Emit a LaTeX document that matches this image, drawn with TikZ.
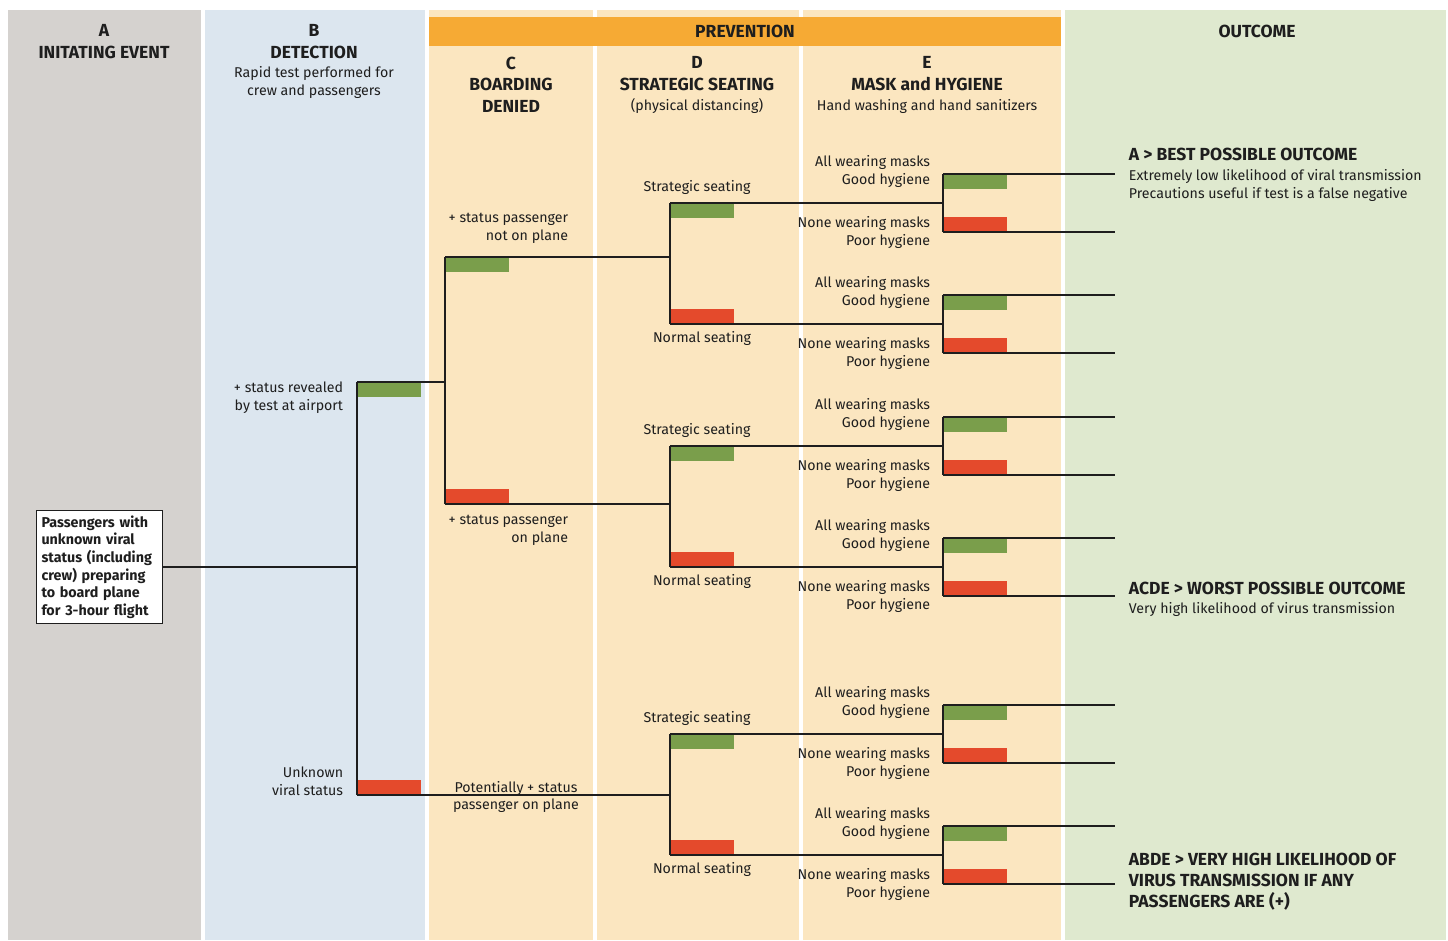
\documentclass[tikz,border=0pt]{standalone}
\usepackage{fontspec}
\setmainfont{Fira Sans}
\usetikzlibrary{positioning}
\definecolor{bgA}{HTML}{D5D2CF}
\definecolor{bgB}{HTML}{DCE6EF}
\definecolor{bgP}{HTML}{FBE6C0}
\definecolor{bgO}{HTML}{DFE9CF}
\definecolor{prev}{HTML}{F6AA34}
\definecolor{barG}{HTML}{7A9E4B}
\definecolor{barR}{HTML}{E44A2C}
\definecolor{ink}{HTML}{1E1E1E}

\begin{document}
\begin{tikzpicture}[x=1pt, y=-1pt, line width=1.8pt, ink,
  hd/.style={font=\fontsize{17.5}{21.5}\selectfont\bfseries, inner sep=0pt, align=center},
  sub/.style={font=\fontsize{14.2}{17.5}\selectfont, inner sep=0pt, align=center},
  lbl/.style={font=\fontsize{14.2}{18}\selectfont, inner sep=0pt, align=right},
  outhd/.style={font=\fontsize{17.5}{21}\selectfont\bfseries, inner sep=0pt, align=left, anchor=west},
  outtxt/.style={font=\fontsize{14.2}{18}\selectfont, inner sep=0pt, align=left, anchor=west},
  gbar/.style={fill=barG, minimum width=63pt, minimum height=14pt, inner sep=0pt},
  rbar/.style={fill=barR, minimum width=63pt, minimum height=14pt, inner sep=0pt},
  startbox/.style={draw, line width=0.9pt, fill=white, text width=116pt, inner sep=5pt,
    align=left, font=\fontsize{14.3}{17.6}\selectfont\bfseries}]
  \useasboundingbox (0,0) rectangle (1448,941);

  % columns
  \fill[bgA] (8,10) rectangle (201,940);
  \fill[bgB] (205,10) rectangle (425,940);
  \fill[bgP] (429,10) rectangle (593,940);
  \fill[bgP] (597,10) rectangle (799,940);
  \fill[bgP] (803,10) rectangle (1061,940);
  \fill[bgO] (1065,10) rectangle (1446,940);
  \fill[prev] (429,17) rectangle (1061,46);

  % headers
  \node[hd] (hA) at (104,41.5) {A\\INITATING EVENT};
  \node[hd] (hB) at (314,41.5) {B\\DETECTION};
  \node[sub] (sB) at (314,82.5) {Rapid test performed for\\crew and passengers};
  \node[hd] (hP) at (745,31) {PREVENTION};
  \node[hd] (hC) at (511,84.5) {C\\BOARDING\\DENIED};
  \node[hd] (hD) at (697,73.5) {D\\STRATEGIC SEATING};
  \node[sub] (sD) at (697,106) {(physical distancing)};
  \node[hd] (hE) at (927,73.5) {E\\MASK and HYGIENE};
  \node[sub] (sE) at (927,106) {Hand washing and hand sanitizers};
  \node[hd] (hO) at (1257,31) {OUTCOME};

  % E: masks and hygiene
  \foreach \n/\y in {1/203, 2/324, 3/446, 4/567, 5/734, 6/855}{
    \coordinate (E\n) at (943,\y);
    \coordinate (Et\n) at (943,\y-29);
    \coordinate (Eb\n) at (943,\y+29);
    \coordinate (Ft\n) at (1115,\y-29);
    \coordinate (Fb\n) at (1115,\y+29);
    \node[gbar, anchor=north west] (Eg\n) at (Et\n) {};
    \node[rbar, anchor=south west] (Er\n) at (Eb\n) {};
    \node[lbl, anchor=east] (Lg\n) at (931,\y-32) {All wearing masks\\Good hygiene};
    \node[lbl, anchor=east] (Lr\n) at (931,\y+29) {None wearing masks\\Poor hygiene};
    \draw (Et\n) -- (Eb\n);
    \draw (Et\n) -- (Ft\n);
    \draw (Eb\n) -- (Fb\n);
  }

  % D: seating
  \foreach \n/\y/\t/\b in {1/257/203/324, 2/504/446/567, 3/795/734/855}{
    \pgfmathtruncatemacro\up{2*\n-1}
    \pgfmathtruncatemacro\dn{2*\n}
    \coordinate (D\n) at (670,\y);
    \coordinate (Dt\n) at (670,\t);
    \coordinate (Db\n) at (670,\b);
    \node[gbar, anchor=north west] (Dg\n) at (Dt\n) {};
    \node[rbar, anchor=south west] (Dr\n) at (Db\n) {};
    \node[sub] (Ls\n) at (697,\t-16) {Strategic seating};
    \node[sub] (Ln\n) at (702,\b+14) {Normal seating};
    \draw (Dt\n) -- (Db\n);
    \draw (Dt\n) -- (E\up);
    \draw (Db\n) -- (E\dn);
  }

  % C: boarding
  \coordinate (C) at (445,382);
  \coordinate (Ct) at (445,257);
  \coordinate (Cb) at (445,504);
  \node[gbar, anchor=north west] (Cg) at (Ct) {};
  \node[rbar, anchor=south west] (Cr) at (Cb) {};
  \node[lbl, anchor=east] (Lc1) at (569,228) {+ status passenger\\not on plane};
  \node[lbl, anchor=east] (Lc2) at (569,530) {+ status passenger\\on plane};
  \node[sub] (Lc3) at (516,797) {Potentially + status\\passenger on plane};
  \draw (Ct) -- (Cb);
  \draw (Ct) -- (D1);
  \draw (Cb) -- (D2);

  % B: detection
  \node[startbox] (init) at (99.5,567) {Passengers with\\unknown viral\\status (including\\crew) preparing\\to board plane\\for 3-hour flight};
  \coordinate (B) at (357,567);
  \coordinate (Bt) at (357,382);
  \coordinate (Bb) at (357,795);
  \node[gbar, anchor=north west] (Bg) at (Bt) {};
  \node[rbar, anchor=south west] (Br) at (Bb) {};
  \node[lbl, anchor=east] (Lb1) at (344,398) {+ status revealed\\by test at airport};
  \node[lbl, anchor=east] (Lb2) at (344,781) {Unknown\\viral status};
  \draw (init.east) -- (B);
  \draw (Bt) -- (Bb);
  \draw (Bt) -- (C);
  \draw (Bb) -- (D3);

  % outcomes
  \node[outhd] (o1) at (1128,154) {A > BEST POSSIBLE OUTCOME};
  \node[outtxt] (o1t) at (1128,185) {Extremely low likelihood of viral transmission\\Precautions useful if test is a false negative};
  \node[outhd] (o2) at (1128,588) {ACDE > WORST POSSIBLE OUTCOME};
  \node[outtxt] (o2t) at (1128,609) {Very high likelihood of virus transmission};
  \node[outhd] (o3) at (1128,882) {ABDE > VERY HIGH LIKELIHOOD OF\\VIRUS TRANSMISSION IF ANY\\PASSENGERS ARE (+)};
\end{tikzpicture}
\end{document}
